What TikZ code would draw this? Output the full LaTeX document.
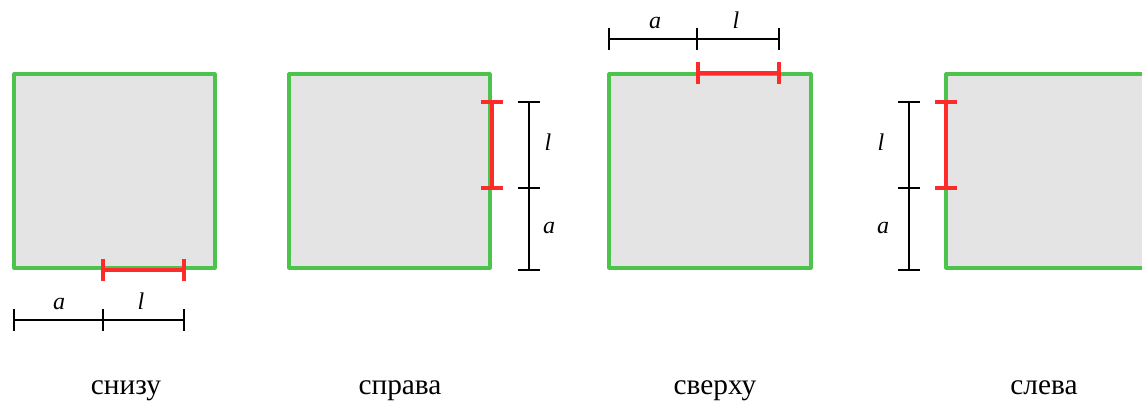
\documentclass[tikz,border=0pt]{standalone}
\usepackage{fontspec}
\setmainfont{Liberation Serif}
\definecolor{boxgreen}{RGB}{76,196,76}
\definecolor{boxgrey}{RGB}{228,228,228}
\definecolor{segred}{RGB}{255,42,42}
\begin{document}
\begin{tikzpicture}[x=0.75pt,y=-0.75pt]
\tikzstyle{plate}=[draw=boxgreen,fill=boxgrey,line width=2.4pt,line join=round]
\tikzstyle{segment}=[draw=segred,line width=2.4pt]
\tikzstyle{dim}=[draw=black,line width=1.2pt]
\tikzstyle{len}=[font=\fontsize{18}{20}\selectfont\itshape,inner sep=0pt]
\tikzstyle{caption}=[font=\fontsize{22}{24}\selectfont,inner sep=0pt,anchor=base]
\useasboundingbox (0,0) rectangle (1142,403);
% снизу
\draw[plate] (14,74) rectangle (215,268);
\coordinate (b1) at (103,270);
\coordinate (b2) at (184,270);
\draw[segment] (b1) -- (b2);
\draw[segment] ([yshift=8pt]b1) -- ([yshift=-8pt]b1);
\draw[segment] ([yshift=8pt]b2) -- ([yshift=-8pt]b2);
\coordinate (bd0) at (14,320);
\coordinate (bd1) at (103,320);
\coordinate (bd2) at (184,320);
\draw[dim] (bd0) -- (bd1) -- (bd2);
\foreach \p in {bd0,bd1,bd2}
  \draw[dim] ([yshift=8pt]\p) -- ([yshift=-8pt]\p);
\node[len] (ba) at (59,304) {a};
\node[len] (bl) at (141,301) {l};
\node[caption] (bottom) at (126,394) {снизу};
% справа
\draw[plate] (289,74) rectangle (490,268);
\coordinate (r1) at (492,102);
\coordinate (r2) at (492,188);
\draw[segment] (r1) -- (r2);
\draw[segment] ([xshift=-8pt]r1) -- ([xshift=8pt]r1);
\draw[segment] ([xshift=-8pt]r2) -- ([xshift=8pt]r2);
\coordinate (rd0) at (529,270);
\coordinate (rd1) at (529,188);
\coordinate (rd2) at (529,102);
\draw[dim] (rd0) -- (rd1) -- (rd2);
\foreach \p in {rd0,rd1,rd2}
  \draw[dim] ([xshift=-8pt]\p) -- ([xshift=8pt]\p);
\node[len] (rl) at (548,142) {l};
\node[len] (ra) at (549,228) {a};
\node[caption] (right) at (400,394) {справа};
% сверху
\draw[plate] (609,74) rectangle (811,268);
\coordinate (t1) at (698,73);
\coordinate (t2) at (779,73);
\draw[segment] (t1) -- (t2);
\draw[segment] ([yshift=8pt]t1) -- ([yshift=-8pt]t1);
\draw[segment] ([yshift=8pt]t2) -- ([yshift=-8pt]t2);
\coordinate (td0) at (609,39);
\coordinate (td1) at (697,39);
\coordinate (td2) at (779,39);
\draw[dim] (td0) -- (td1) -- (td2);
\foreach \p in {td0,td1,td2}
  \draw[dim] ([yshift=8pt]\p) -- ([yshift=-8pt]\p);
\node[len] (ta) at (655,23) {a};
\node[len] (tl) at (736,20) {l};
\node[caption] (top) at (715,394) {сверху};
% слева
\draw[plate] (946,74) rectangle (1150,268);
\coordinate (l1) at (946,102);
\coordinate (l2) at (946,188);
\draw[segment] (l1) -- (l2);
\draw[segment] ([xshift=-8pt]l1) -- ([xshift=8pt]l1);
\draw[segment] ([xshift=-8pt]l2) -- ([xshift=8pt]l2);
\coordinate (ld0) at (909,270);
\coordinate (ld1) at (909,188);
\coordinate (ld2) at (909,102);
\draw[dim] (ld0) -- (ld1) -- (ld2);
\foreach \p in {ld0,ld1,ld2}
  \draw[dim] ([xshift=-8pt]\p) -- ([xshift=8pt]\p);
\node[len] (ll) at (881,142) {l};
\node[len] (la) at (883,228) {a};
\node[caption] (left) at (1044,394) {слева};
\end{tikzpicture}
\end{document}
